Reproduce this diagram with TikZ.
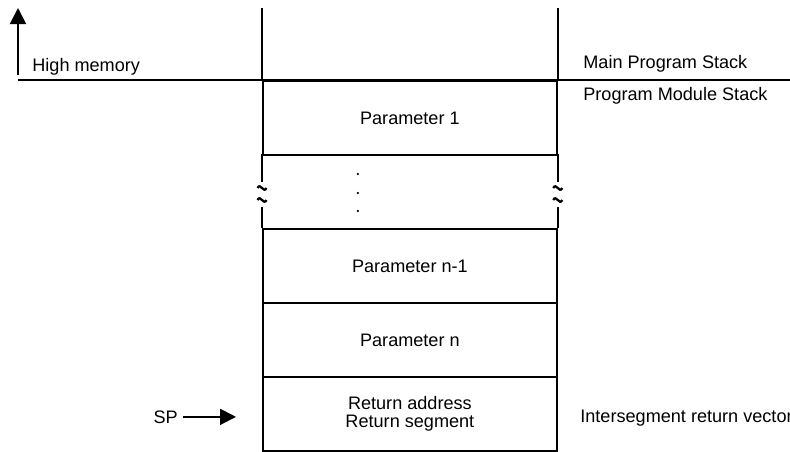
\documentclass[tikz,border=0pt]{standalone}
\usepackage{fontspec}
\setmainfont{Liberation Sans}
\usetikzlibrary{arrows.meta}

\begin{document}
\begin{tikzpicture}[font=\fontsize{10.3}{10.6}\selectfont]
      \useasboundingbox (0,0) rectangle (158mm,90.2mm);
      \coordinate (origo) at (52.4mm,74.2mm);

      \tikzstyle{cell} = [
        rectangle,
        draw=black,
        line width=1pt,
        anchor=north west,
        minimum width=58.8mm,
        minimum height=14.8mm,
        inner sep=0pt,
        align=center
      ]
      \tikzstyle{celllabel} = [
        draw=none,
        anchor=base west,
        inner sep=0pt
      ]

      \tikzstyle{wall} = [line width=1pt, draw=black]
      \tikzstyle{arrow} = [line width=1.1pt, -{Triangle[width=3.2mm,length=3.2mm]}]
      \tikzstyle{squiggle} = [line width=1.3pt]

      % stack frame
      \node[cell] (cellParam1) at (origo) {Parameter 1};
      \node[cell,draw=none] (cellDots) at ([yshift=-14.8mm] origo) {};
      \node[cell] (cellParamN1) at ([yshift=-29.6mm] origo) {Parameter n-1};
      \node[cell] (cellParamN) at ([yshift=-44.4mm] origo) {Parameter n};
      \node[cell] (cellReturn) at ([yshift=-59.2mm] origo) {Return address\\Return segment};

      % walls above the frame
      \draw[wall] (cellParam1.north west) -- ++(0,14.4mm);
      \draw[wall] (cellParam1.north east) -- ++(0,14.4mm);

      % broken walls and dots
      \foreach \side in {north west, north east} {
        \draw[wall] (cellDots.\side) -- ([yshift=-5.6mm] cellDots.\side);
        \draw[wall] ([yshift=-10.6mm] cellDots.\side) -- ([yshift=-14.8mm] cellDots.\side);
        \foreach \dy in {6.8mm, 9.2mm}
          \draw[squiggle] ([xshift=-0.9mm,yshift=-\dy] cellDots.\side) .. controls +(0.6mm,1.2mm) and +(-0.6mm,-1.2mm) .. ([xshift=0.9mm,yshift=-\dy] cellDots.\side);
      }
      \foreach \dy in {4mm, 7.8mm, 11.4mm}
        \fill ([xshift=-10.4mm,yshift=-\dy] cellDots.north) circle (0.25mm);

      % high memory boundary
      \coordinate (memLeft) at (3.6mm,74.2mm);
      \coordinate (memRight) at (158mm,74.2mm);
      \coordinate (memTop) at (3.6mm,88.6mm);
      \draw[wall] (memLeft) -- (memRight);
      \draw[arrow] ([yshift=1mm] memLeft) -- (memTop);

      % labels
      \node[celllabel] (highLabel) at (6.4mm,76mm) {High memory};
      \node[celllabel] (mainLabel) at (116.6mm,76.6mm) {Main Program Stack};
      \node[celllabel] (moduleLabel) at (116.6mm,70.2mm) {Program Module Stack};
      \node[celllabel] (vectorLabel) at (116mm,5.8mm) {Intersegment return vector};
      \node[celllabel,anchor=base east] (spLabel) at (35.6mm,5.6mm) {SP};

      % stack pointer
      \coordinate (spTip) at ([xshift=-5.2mm,yshift=-0.6mm] cellReturn.west);
      \draw[arrow] ([xshift=0.9mm] spTip -| spLabel.east) -- (spTip);
    \end{tikzpicture}
\end{document}
